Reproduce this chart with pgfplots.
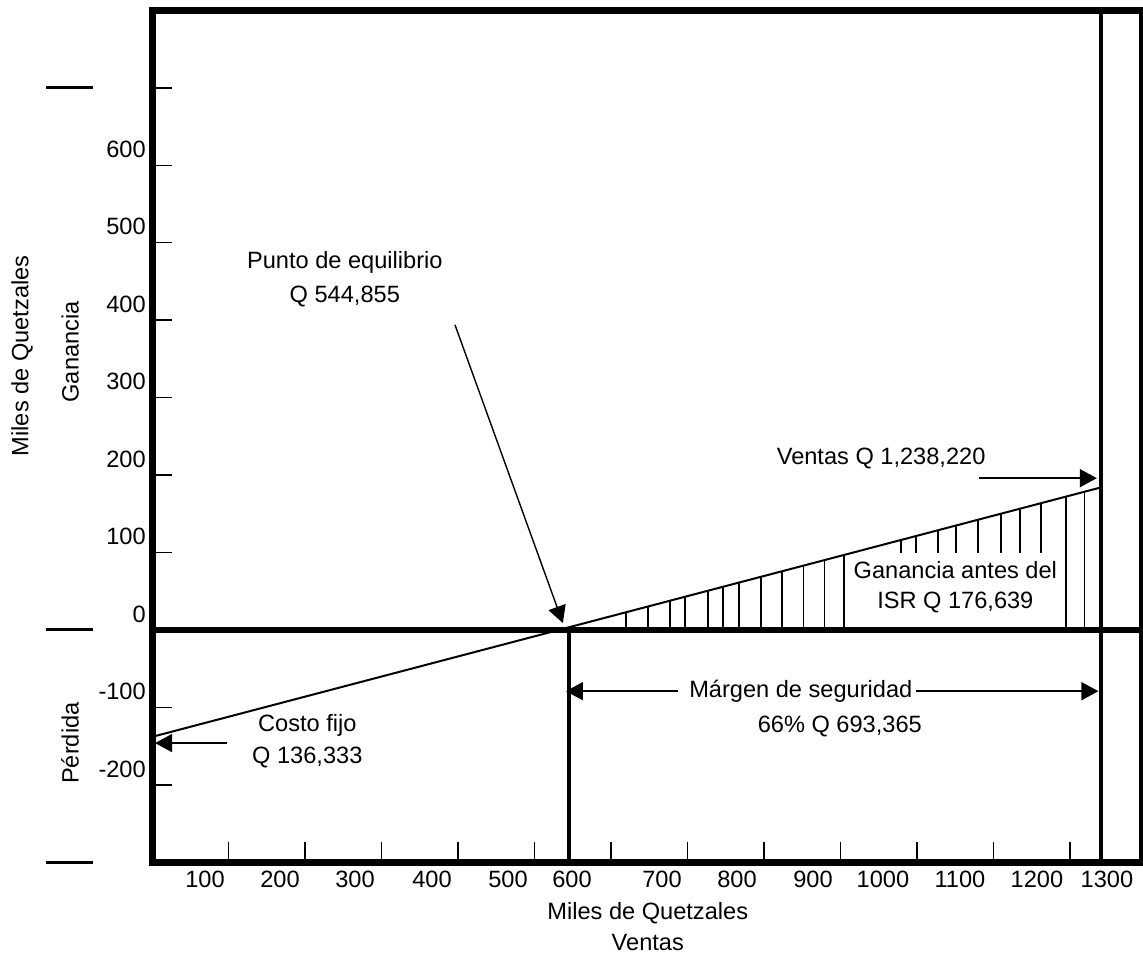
\documentclass[border=0pt]{standalone}
\usepackage{fontspec}
\setmainfont{Liberation Sans}
\usepackage{pgfplots}
\pgfplotsset{compat=1.18}
\usetikzlibrary{arrows.meta}

\begin{document}
\fontsize{11.8}{14}\selectfont
\begin{tikzpicture}[font=\fontsize{11.8}{14}\selectfont, >={Triangle[length=8.5pt,width=9pt]}]
\begin{axis}[
  scale only axis, width=495pt, height=426pt,
  xmin=0, xmax=1294, ymin=-300, ymax=800,
  axis line style={line width=3.5pt},
  clip=false,
  tick align=inside,
  major tick length=10pt,
  tick style={black, line width=0.7pt},
  xtick={100,200,...,1200},
  xticklabels={},
  extra x ticks={69.3,167.3,265.3,366,465.3,549,666.6,764.6,864,955.4,1056,1156.7,1248.2},
  extra x tick labels={100,200,300,400,500,600,700,800,900,1000,1100,1200,1300},
  extra x tick style={major tick length=0pt},
  ytick={-200,-100,0,100,200,300,400,500,600,700},
  yticklabels={-200,-100,0,100,200,300,400,500,600,{}},
  yticklabel style={yshift=8pt, xshift=1pt},
  xtick pos=left, ytick pos=left,
  /pgf/number format/assume math mode=true,
]
% profit / loss line
\addplot[black, line width=1pt] coordinates {(0,-138) (1240,184)};
% hatch of the profit area
\addplot[black, line width=0.8pt, unbounded coords=jump] coordinates {
 (619.5,0) (619.5,22.9) (619.5,nan)
 (648.3,0) (648.3,30.4) (648.3,nan)
 (677,0) (677,37.8) (677,nan)
 (696.6,0) (696.6,42.9) (696.6,nan)
 (726.7,0) (726.7,50.7) (726.7,nan)
 (746.2,0) (746.2,55.8) (746.2,nan)
 (767.2,0) (767.2,61.2) (767.2,nan)
 (796,0) (796,68.7) (796,nan)
 (823.4,0) (823.4,75.8) (823.4,nan)
 (851.5,0) (851.5,83.1) (851.5,nan)
 (878.8,0) (878.8,90.2) (878.8,nan)
 (904.5,0) (904.5,96.9) (904.5,nan)
 (979,100) (979,116.2) (979,nan)
 (998.6,100) (998.6,121.3) (998.6,nan)
 (1027,100) (1027,128.7) (1027,nan)
 (1050.8,100) (1050.8,134.9) (1050.8,nan)
 (1079.6,100) (1079.6,142.4) (1079.6,nan)
 (1109.7,100) (1109.7,150.2) (1109.7,nan)
 (1134.5,100) (1134.5,156.6) (1134.5,nan)
 (1162,100) (1162,163.8) (1162,nan)
 (1194.6,0) (1194.6,172.2) (1194.6,nan)
 (1219,0) (1219,178.6)
};
% zero line
\addplot[black, line width=2.7pt] coordinates {(0,0) (1294,0)};
% break-even vertical
\addplot[black, line width=1.7pt] coordinates {(544.855,-300) (544.855,0)};
% sales vertical
\addplot[black, line width=2pt] coordinates {(1240,-300) (1240,800)};

% outer marks on the left
\draw[line width=1.5pt] (axis cs:-138.5,700) -- (axis cs:-77.1,700);
\draw[line width=1.5pt] (axis cs:-138.5,0) -- (axis cs:-77.1,0);
\draw[line width=1.5pt] (axis cs:-138.5,-300) -- (axis cs:-77.1,-300);

% annotations
\node at (axis cs:252,475) {Punto de equilibrio};
\node at (axis cs:252,431) {Q 544,855};
\draw[->, line width=0.7pt] (axis cs:396,394) -- (axis cs:537,9);

\node at (axis cs:953,222) {Ventas Q 1,238,220};
\draw[->, line width=0.8pt] (axis cs:1081,196) -- (axis cs:1235,196);

\node at (axis cs:1050,77.5) {Ganancia antes del};
\node at (axis cs:1050,36) {ISR Q 176,639};

\node at (axis cs:203,-123) {Costo fijo};
\node at (axis cs:203,-164) {Q 136,333};
\draw[->, line width=0.8pt] (axis cs:98,-146) -- (axis cs:4,-146);

\draw[->, line width=0.8pt] (axis cs:687,-79) -- (axis cs:541,-79);
\draw[->, line width=0.8pt] (axis cs:998.6,-79) -- (axis cs:1237,-79);
\node at (axis cs:848,-79) {Márgen de seguridad};
\node at (axis cs:899,-124) {66\% Q 693,365};

% axis titles
\node[rotate=90] at (axis cs:-170,354) {Miles de Quetzales};
\node[rotate=90] at (axis cs:-107,359) {Ganancia};
\node[rotate=90] at (axis cs:-107,-146) {Pérdida};
\node at (axis cs:648,-365) {Miles de Quetzales};
\node at (axis cs:648,-404) {Ventas};

\coordinate (BL) at (axis cs:-198.7,-423.5);
\coordinate (TR) at (axis cs:1295.3,813.4);
\end{axis}
\pgfresetboundingbox
\path[use as bounding box] (BL) rectangle (TR);
\end{tikzpicture}
\end{document}
